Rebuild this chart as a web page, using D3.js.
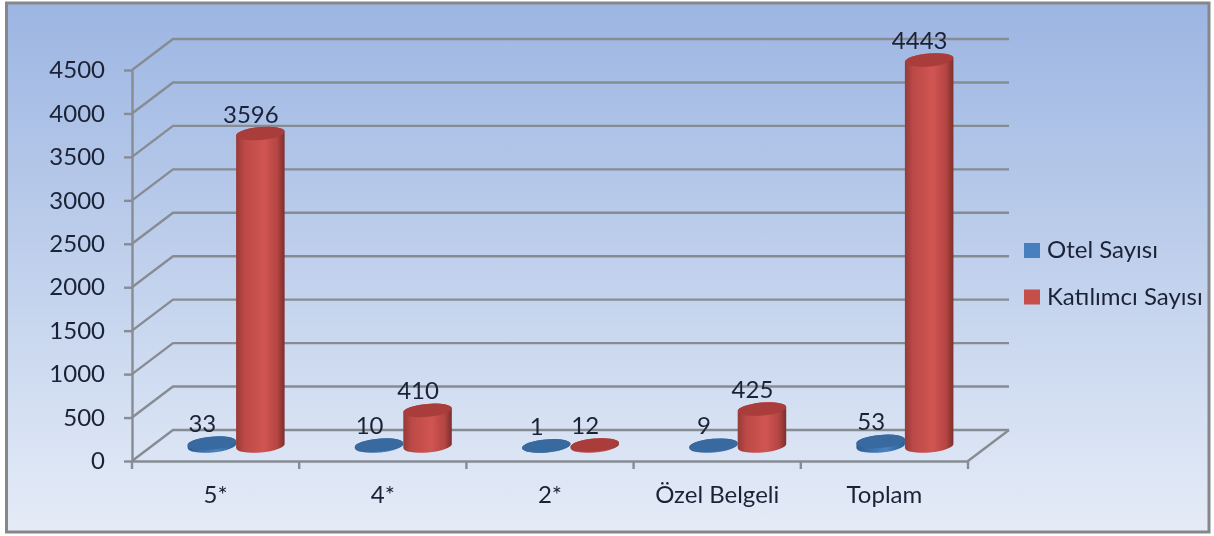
<!DOCTYPE html>
<html>
<head>
<meta charset="utf-8">
<script src="https://cdn.jsdelivr.net/npm/d3@7"></script>
<style>
    html, body { margin: 0; padding: 0; background: #fff; overflow: hidden; }
    text { font-family: Lato, "Open Sans", sans-serif; fill: #1c2236; }
</style>
</head>
<body>
<svg id="my_svg_element" width="1214" height="536"></svg>
<script>
// The values
const categories = ["5*", "4*", "2*", "Özel Belgeli", "Toplam"];
const otel_sayisi = [33, 10, 1, 9, 53];
const katilimci_sayisi = [3596, 410, 12, 425, 4443];
const series_names = ["Otel Sayısı", "Katılımcı Sayısı"];
const y_ticks = [0, 500, 1000, 1500, 2000, 2500, 3000, 3500, 4000, 4500];

const depth_x = 41, depth_y = 31;      // shift of the back wall against the front axis
const base_dx = 20.5, base_dy = 15;    // cylinders stand half way into the floor
const radius_y = 6.5, tilt = 5;

const x_scale = d3.scaleBand().domain(categories).range([132, 968]);
const x_inner = d3.scaleBand().domain(series_names).range([-48.5, 48.5]);
const y_scale = d3.scaleLinear().domain([0, 4500]).range([461, 70]);

const svg = d3.select("#my_svg_element");
const defs = svg.append("defs");

// Background of the chart area
const bg = defs.append("linearGradient").attr("id", "bg_grad")
    .attr("x1", 0).attr("y1", 0).attr("x2", 0).attr("y2", 1);
bg.append("stop").attr("offset", "0%").attr("stop-color", "#9cb5e2");
bg.append("stop").attr("offset", "100%").attr("stop-color", "#e5ecf7");

function side_gradient(id, stops) {
    const g = defs.append("linearGradient").attr("id", id);
    stops.forEach(s => g.append("stop").attr("offset", s[0]).attr("stop-color", s[1]));
}
side_gradient("red_side", [["0%", "#963a37"], ["18%", "#bd4a47"], ["58%", "#d05552"], ["85%", "#b44542"], ["100%", "#7c2e2c"]]);
side_gradient("blue_side", [["0%", "#2c5f95"], ["60%", "#4a82c0"], ["100%", "#2c5f95"]]);

defs.append("filter").attr("id", "soft").append("feGaussianBlur").attr("stdDeviation", 0.5);

svg.append("rect")
    .attr("x", 6.5).attr("y", 3).attr("width", 1202.5).attr("height", 529)
    .attr("fill", "url(#bg_grad)")
    .attr("stroke", "#858789").attr("stroke-width", 3);

const chart = svg.append("g").attr("filter", "url(#soft)");
const line_color = "#878c93";

// Wall grid lines with their diagonal on the side wall
const grid = chart.append("g").attr("fill", "none").attr("stroke", line_color).attr("stroke-width", 2.4);
grid.selectAll("polyline")
    .data(y_ticks)
    .join("polyline")
    .attr("points", d => {
        const y = y_scale(d);
        return [[132, y], [132 + depth_x, y - depth_y], [968 + depth_x, y - depth_y]].join(" ");
    });

// Right edge of the floor
grid.append("line")
    .attr("x1", 968).attr("y1", y_scale(0))
    .attr("x2", 968 + depth_x).attr("y2", y_scale(0) - depth_y);

// Y axis
const y_axis = chart.append("g")
    .attr("transform", "translate(132,0)")
    .call(d3.axisLeft(y_scale).tickValues(y_ticks).tickFormat(d3.format("d"))
        .tickSize(8).tickPadding(19).tickSizeOuter(0));

// X axis, labels only: the ticks sit between the categories
const x_axis = chart.append("g")
    .attr("transform", `translate(0,${y_scale(0)})`)
    .call(d3.axisBottom(x_scale).tickSize(0).tickPadding(25));

x_axis.selectAll(".x_tick")
    .data(categories.map(c => x_scale(c)).concat([x_scale.range()[1]]))
    .join("line")
    .attr("class", "x_tick")
    .attr("x1", d => d).attr("x2", d => d)
    .attr("y1", 0).attr("y2", 8);

[y_axis, x_axis].forEach(axis => {
    axis.selectAll("path, line").attr("stroke", line_color).attr("stroke-width", 2.4);
    axis.selectAll("text").style("font-size", "24px").attr("fill", "#1c2236");
    axis.attr("font-family", null).attr("font-size", null);
});

// One cylinder: side wall plus top ellipse
function draw_cylinder(parent, cx, value, side_fill, top_fill) {
    const r = x_inner.bandwidth() / 2;
    const h = y_scale(0) - y_scale(value);
    const dy = r * Math.tan(tilt * Math.PI / 180);
    const g = parent.append("g")
        .attr("transform", `translate(${cx},${y_scale(0) - base_dy})`);

    g.append("path")
        .attr("d", `M${-r},${dy - h} L${-r},${dy} A${r},${radius_y} ${-tilt} 0 0 ${r},${-dy} `
                 + `L${r},${-dy - h} A${r},${radius_y} ${-tilt} 0 0 ${-r},${dy - h} Z`)
        .attr("fill", side_fill);

    g.append("ellipse")
        .attr("cy", -h)
        .attr("rx", r).attr("ry", radius_y)
        .attr("transform", `rotate(${-tilt},0,${-h})`)
        .attr("fill", top_fill);
}

const series = [
    { name: series_names[0], values: otel_sayisi, side: "url(#blue_side)", top: "#38699f" },
    { name: series_names[1], values: katilimci_sayisi, side: "url(#red_side)", top: "#a83e3a" }
];

const bars = chart.append("g");
categories.forEach((cat, i) => {
    series.forEach(s => {
        const cx = x_scale(cat) + x_scale.bandwidth() / 2 + base_dx
                 + x_inner(s.name) + x_inner.bandwidth() / 2;
        draw_cylinder(bars, cx, s.values[i], s.side, s.top);
    });
});

// Value labels
series.forEach(s => {
    chart.append("g").selectAll("text")
        .data(s.values)
        .join("text")
        .attr("x", (d, i) => x_scale(categories[i]) + x_scale.bandwidth() / 2 + base_dx
                           + x_inner(s.name) + x_inner.bandwidth() / 2 - 9.5)
        .attr("y", d => y_scale(d) - base_dy - 11)
        .attr("text-anchor", "middle")
        .style("font-size", "24px")
        .text(d => d);
});

// Legend
const legend_colors = ["#4a7fbe", "#c4504c"];
const legend = chart.append("g").selectAll("g")
    .data(series_names)
    .join("g")
    .attr("transform", (d, i) => `translate(1024,${243 + i * 46.5})`);
legend.append("rect")
    .attr("width", 16).attr("height", 15)
    .attr("fill", (d, i) => legend_colors[i]);
legend.append("text")
    .attr("x", 23).attr("y", 15)
    .style("font-size", "24px")
    .text(d => d);
</script>
</body>
</html>
